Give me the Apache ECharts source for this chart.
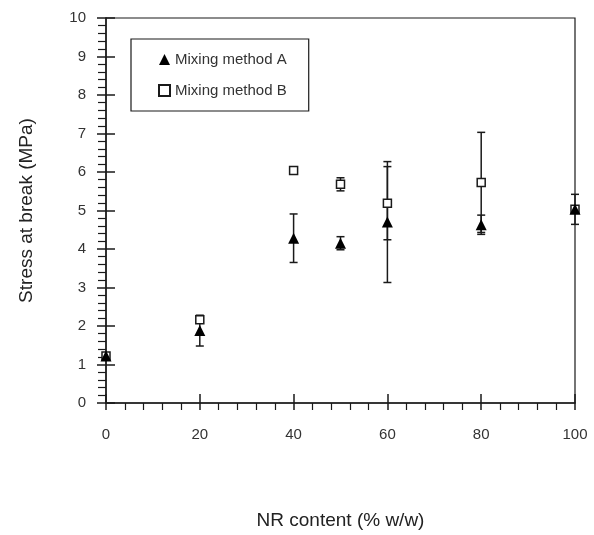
<!DOCTYPE html>
<html>
<head>
<meta charset="utf-8">
<script src="https://cdn.jsdelivr.net/npm/echarts@6/dist/echarts.min.js"></script>
<style>html,body{margin:0;padding:0;background:#fff}#c{width:594px;height:535px}</style>
</head>
<body>
<div id="c"></div>
<script>
const xValues = [0, 20, 40, 50, 60, 80, 100];
const methodA = [1.22, 1.88, 4.28, 4.15, 4.70, 4.63, 5.03];
const errA    = [0.00, 0.40, 0.63, 0.17, 1.57, 0.25, 0.39];
const methodB = [1.22, 2.16, 6.04, 5.68, 5.19, 5.73, 5.03];
const errB    = [0.00, 0.08, 0.05, 0.17, 0.95, 1.30, 0.05];
const seriesNames = ['Mixing method A', 'Mixing method B'];
const xTicks = [0, 20, 40, 60, 80, 100];
const yTicks = [0, 1, 2, 3, 4, 5, 6, 7, 8, 9, 10];

const font = 'Liberation Sans, Arial, sans-serif';
const ink = '#1a1a1a';

function errData(vals, errs) {
  return xValues.map((x, i) => [x, vals[i] - errs[i], vals[i] + errs[i]]);
}
function errRender(params, api) {
  const x = api.value(0), lo = api.value(1), hi = api.value(2);
  if (hi - lo <= 0) return null;
  const p1 = api.coord([x, hi]);
  const p2 = api.coord([x, lo]);
  const w = 4;
  const st = { stroke: ink, lineWidth: 1.5 };
  return {
    type: 'group',
    children: [
      { type: 'line', shape: { x1: p1[0], y1: p1[1], x2: p2[0], y2: p2[1] }, style: st },
      { type: 'line', shape: { x1: p1[0] - w, y1: p1[1], x2: p1[0] + w, y2: p1[1] }, style: st },
      { type: 'line', shape: { x1: p2[0] - w, y1: p2[1], x2: p2[0] + w, y2: p2[1] }, style: st }
    ]
  };
}

const axisCommon = {
  type: 'value',
  min: 0,
  splitLine: { show: false },
};

const chart = echarts.init(document.getElementById('c'));
chart.setOption({
  animation: false,
  backgroundColor: '#fff',
  grid: { left: 106, right: 19, top: 18, bottom: 132, show: true, borderColor: ink, borderWidth: 1.2,
    outerBoundsMode: 'none', containLabel: false },
  legend: {
    data: seriesNames,
    orient: 'vertical',
    left: 131, top: 39,
    padding: [13, 22, 13, 27],
    itemGap: 16,
    itemWidth: 11, itemHeight: 11,
    borderColor: ink, borderWidth: 1.2, borderRadius: 0,
    textStyle: { fontFamily: font, fontSize: 15, color: '#333' }
  },
  xAxis: [
    Object.assign({}, axisCommon, {
      max: 100, interval: 20,
      axisLine: { show: true, lineStyle: { color: ink, width: 1.5 } },
      axisTick: { show: true, inside: false, length: 7, lineStyle: { color: ink, width: 1.5 } },
      minorTick: { show: true, splitNumber: 5, length: 7, lineStyle: { color: ink, width: 1.2 } },
      axisLabel: { margin: 24, fontFamily: font, fontSize: 15, color: '#333',
        formatter: v => xTicks.indexOf(v) >= 0 ? String(v) : '' },
      name: 'NR content (% w/w)', nameLocation: 'middle', nameGap: 108,
      nameTextStyle: { fontFamily: font, fontSize: 19, color: '#222' }
    }),
    Object.assign({}, axisCommon, {
      max: 100, interval: 20, position: 'bottom',
      axisLine: { show: false },
      axisTick: { show: true, inside: true, length: 9, lineStyle: { color: ink, width: 1.5 } },
      axisLabel: { show: false }
    })
  ],
  yAxis: [
    Object.assign({}, axisCommon, {
      max: 10, interval: 1,
      axisLine: { show: true, lineStyle: { color: ink, width: 1.5 } },
      axisTick: { show: true, inside: false, length: 9, lineStyle: { color: ink, width: 1.5 } },
      minorTick: { show: true, splitNumber: 5, length: 8, lineStyle: { color: ink, width: 1.2 } },
      axisLabel: { margin: 20, fontFamily: font, fontSize: 15, color: '#333',
        formatter: v => yTicks.indexOf(v) >= 0 ? String(v) : '' },
      name: 'Stress at break (MPa)', nameLocation: 'middle', nameGap: 70,
      nameTextStyle: { fontFamily: font, fontSize: 19, color: '#222' }
    }),
    Object.assign({}, axisCommon, {
      max: 10, interval: 1, position: 'left',
      axisLine: { show: false },
      axisTick: { show: true, inside: true, length: 9, lineStyle: { color: ink, width: 1.5 } },
      axisLabel: { show: false }
    })
  ],
  series: [
    {
      type: 'custom', name: 'errB', renderItem: errRender, data: errData(methodB, errB),
      encode: { x: 0, y: [1, 2] }, z: 1, silent: true
    },
    {
      type: 'custom', name: 'errA', renderItem: errRender, data: errData(methodA, errA),
      encode: { x: 0, y: [1, 2] }, z: 1, silent: true
    },
    {
      type: 'scatter', name: seriesNames[1],
      data: xValues.map((x, i) => [x, methodB[i]]),
      symbol: 'rect', symbolSize: 8,
      itemStyle: { color: '#fff', borderColor: ink, borderWidth: 1.5, opacity: 1 },
      z: 3
    },
    {
      type: 'scatter', name: seriesNames[0],
      data: xValues.map((x, i) => [x, methodA[i]]),
      symbol: 'triangle', symbolSize: [11, 11],
      itemStyle: { color: '#000', opacity: 1 },
      z: 4
    }
  ]
});
</script>
</body>
</html>
